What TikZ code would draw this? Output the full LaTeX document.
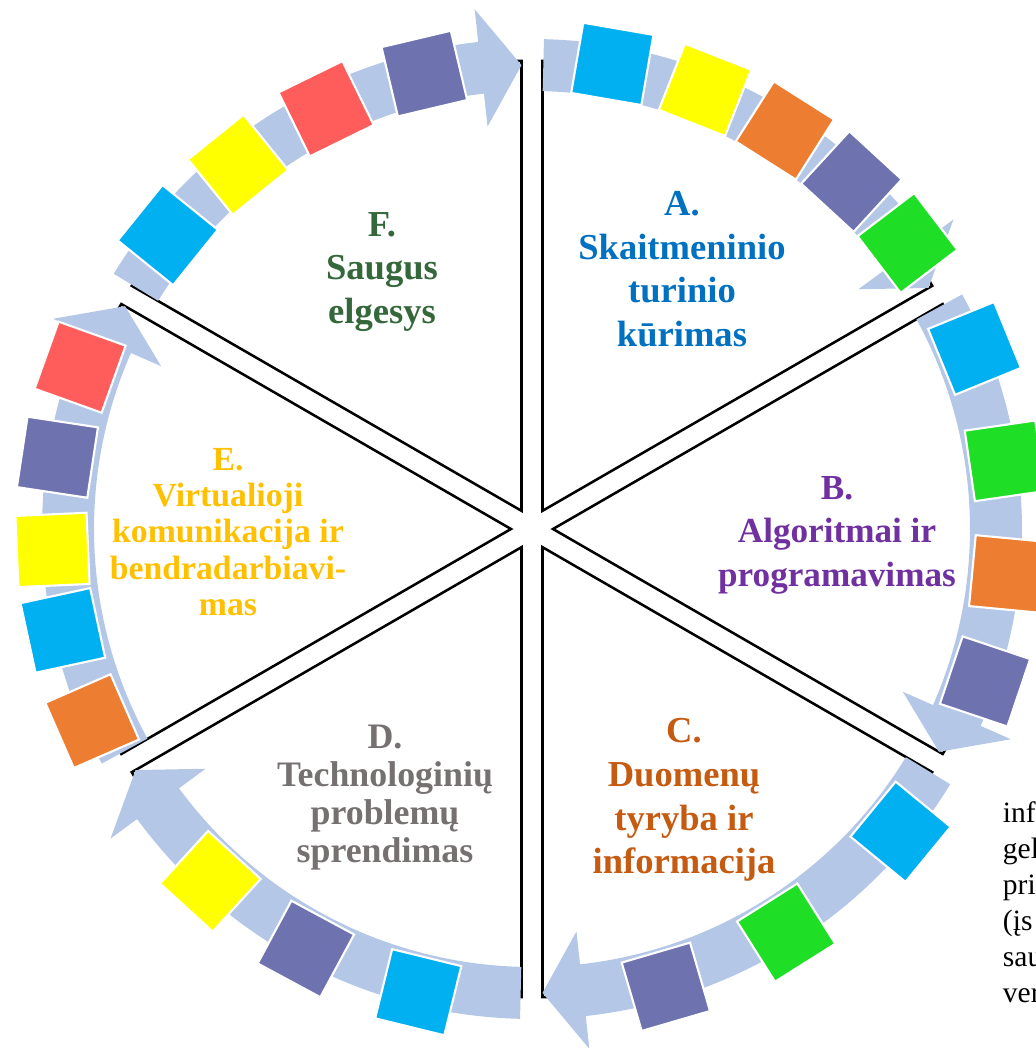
\documentclass[tikz,border=0pt]{standalone}
\usepackage{fontspec}
\setmainfont{Liberation Serif}
\definecolor{flowblue}{RGB}{180,199,231}
\definecolor{sqcyan}{RGB}{0,176,240}
\definecolor{sqyellow}{RGB}{255,255,0}
\definecolor{sqorange}{RGB}{237,125,49}
\definecolor{sqpurple}{RGB}{110,114,175}
\definecolor{sqgreen}{RGB}{30,222,38}
\definecolor{sqred}{RGB}{255,92,92}
\definecolor{txtA}{RGB}{0,112,192}
\definecolor{txtB}{RGB}{112,48,160}
\definecolor{txtC}{RGB}{197,90,17}
\definecolor{txtD}{RGB}{118,113,113}
\definecolor{txtE}{RGB}{255,192,0}
\definecolor{txtF}{RGB}{52,104,58}
\begin{document}
\begin{tikzpicture}[x=0.025cm,y=0.025cm,
	wedge/.style={draw=black, line width=1.8pt},
	flow/.style={fill=flowblue},
	tile/.style={draw=white, line width=1.5pt, minimum size=1.78cm, inner sep=0pt},
	topic/.style={align=center, font=\bfseries\fontsize{26}{31}\selectfont},
	note/.style={anchor=base west, font=\fontsize{21}{25}\selectfont}]
	\useasboundingbox (-532,-519) rectangle (503,529);
	% sectors
	\draw[wedge] (60:21) -- ++(90:450) arc[start angle=90, end angle=30, radius=450] -- cycle;
	\draw[wedge] (0:21) -- ++(30:450) arc[start angle=30, end angle=-30, radius=450] -- cycle;
	\draw[wedge] (-60:21) -- ++(-30:450) arc[start angle=-30, end angle=-90, radius=450] -- cycle;
	\draw[wedge] (-120:21) -- ++(-90:450) arc[start angle=-90, end angle=-150, radius=450] -- cycle;
	\draw[wedge] (180:21) -- ++(-150:450) arc[start angle=-150, end angle=-210, radius=450] -- cycle;
	\draw[wedge] (120:21) -- ++(150:450) arc[start angle=150, end angle=90, radius=450] -- cycle;
	% curved arrows
	\fill[flow] (88.6:490) arc[start angle=88.6, end angle=36.3, radius=490] -- (36.3:523) -- (31.3:464) -- (36.3:405) -- (36.3:438) arc[start angle=36.3, end angle=88.6, radius=438] -- cycle;
	\fill[flow] (28.6:490) arc[start angle=28.6, end angle=-23.7, radius=490] -- (-23.7:523) -- (-28.7:464) -- (-23.7:405) -- (-23.7:438) arc[start angle=-23.7, end angle=28.6, radius=438] -- cycle;
	\fill[flow] (-31.4:490) arc[start angle=-31.4, end angle=-83.7, radius=490] -- (-83.7:523) -- (-88.7:464) -- (-83.7:405) -- (-83.7:438) arc[start angle=-83.7, end angle=-31.4, radius=438] -- cycle;
	\fill[flow] (268.6:490) arc[start angle=268.6, end angle=216.3, radius=490] -- (216.3:523) -- (211.3:464) -- (216.3:405) -- (216.3:438) arc[start angle=216.3, end angle=268.6, radius=438] -- cycle;
	\fill[flow] (208.6:490) arc[start angle=208.6, end angle=156.3, radius=490] -- (156.3:523) -- (151.3:464) -- (156.3:405) -- (156.3:438) arc[start angle=156.3, end angle=208.6, radius=438] -- cycle;
	\fill[flow] (148.6:490) arc[start angle=148.6, end angle=96.3, radius=490] -- (96.3:523) -- (91.3:464) -- (96.3:405) -- (96.3:438) arc[start angle=96.3, end angle=148.6, radius=438] -- cycle;
	% tiles
	\node (A1) at (80.2:472)	[tile, fill=sqcyan, rotate=-9.8]	{};
	\node (A2) at (68.5:472)	[tile, fill=sqyellow, rotate=-21.5]	{};
	\node (A3) at (57.6:472)	[tile, fill=sqorange, rotate=-32.4]	{};
	\node (A4) at (47.4:472)	[tile, fill=sqpurple, rotate=-42.6]	{};
	\node (A5) at (37.3:472)	[tile, fill=sqgreen, rotate=-52.7]	{};
	\node (B1) at (22.2:478)	[tile, fill=sqcyan, rotate=-67.8]	{};
	\node (B2) at (8.2:478)	[tile, fill=sqgreen, rotate=-81.8]	{};
	\node (B3) at (-5.4:478)	[tile, fill=sqorange, rotate=-95.4]	{};
	\node (B4) at (-18.6:478)	[tile, fill=sqpurple, rotate=-108.6]	{};
	\node (C1) at (-39.4:477)	[tile, fill=sqcyan, rotate=-129.4]	{};
	\node (C2) at (-57.8:477)	[tile, fill=sqgreen, rotate=-147.8]	{};
	\node (C3) at (-73.7:477)	[tile, fill=sqpurple, rotate=-163.7]	{};
	\node (D1) at (256.2:477)	[tile, fill=sqcyan, rotate=166.2]	{};
	\node (D2) at (241.7:477)	[tile, fill=sqpurple, rotate=151.7]	{};
	\node (D3) at (227.6:477)	[tile, fill=sqyellow, rotate=137.6]	{};
	\node (E1) at (203.6:480)	[tile, fill=sqorange, rotate=113.6]	{};
	\node (E2) at (192.2:480)	[tile, fill=sqcyan, rotate=102.2]	{};
	\node (E3) at (182.5:480)	[tile, fill=sqyellow, rotate=92.5]	{};
	\node (E4) at (171.4:480)	[tile, fill=sqpurple, rotate=81.4]	{};
	\node (E5) at (160.3:480)	[tile, fill=sqred, rotate=70.3]	{};
	\node (F1) at (141.1:468)	[tile, fill=sqcyan, rotate=51.1]	{};
	\node (F2) at (128.9:468)	[tile, fill=sqyellow, rotate=38.9]	{};
	\node (F3) at (116.1:468)	[tile, fill=sqred, rotate=26.1]	{};
	\node (F4) at (103.3:468)	[tile, fill=sqpurple, rotate=13.3]	{};
	% topics
	\node (labA) at (150,260)	[topic, text=txtA]	{A.\\Skaitmeninio\\turinio\\kūrimas};
	\node (labB) at (305,-6)	[topic, text=txtB, font=\bfseries\fontsize{25}{31}\selectfont]	{B.\\Algoritmai ir\\programavimas};
	\node (labC) at (152,-271)	[topic, text=txtC]	{C.\\Duomenų\\tyryba ir\\informacija};
	\node (labD) at (-147,-269)	[topic, text=txtD, font=\bfseries\fontsize{25.5}{27}\selectfont]	{D.\\Technologinių\\problemų\\sprendimas};
	\node (labE) at (-304,-3)	[topic, text=txtE, font=\bfseries\fontsize{24}{25.8}\selectfont]	{E.\\Virtualioji\\komunikacija ir\\bendradarbiavi-\\mas};
	\node (labF) at (-150,257)	[topic, text=txtF]	{F.\\Saugus\\elgesys};
	% cut-off text at the right
	\node (txt1) at (466,-293)	[note]	{inf};
	\node (txt2) at (466,-329)	[note]	{gel};
	\node (txt3) at (466,-365)	[note]	{pri};
	\node (txt4) at (466,-401)	[note]	{(įs};
	\node (txt5) at (466,-437)	[note]	{sau};
	\node (txt6) at (466,-473)	[note]	{ver};
\end{tikzpicture}
\end{document}
